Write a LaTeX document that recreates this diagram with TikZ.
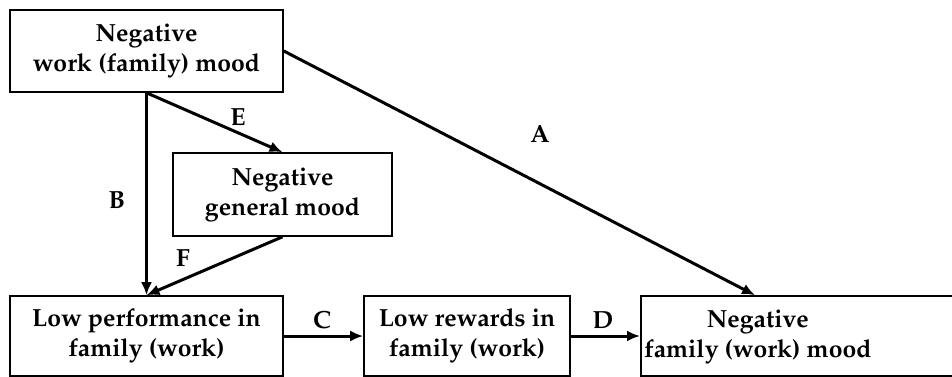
\documentclass[tikz,border=0pt]{standalone}
\usepackage[T1]{fontenc}
\usepackage{mathpazo}
\usetikzlibrary{arrows.meta}

\tikzset{
  box/.style={draw, line width=0.8pt, inner sep=0pt, align=center,
    font=\fontsize{12.4}{15}\selectfont\bfseries},
  arr/.style={line width=1.5pt, -{Latex[length=6.5pt,width=5.5pt]}},
  lbl/.style={font=\fontsize{12.4}{15}\selectfont\bfseries, inner sep=0pt}
}

\begin{document}
\begin{tikzpicture}[x=0.5pt,y=-0.5pt]
  \useasboundingbox (0,0) rectangle (952,376);
  % boxes
  \node[box, minimum width=136.5pt, minimum height=41pt] (work) at (146.5,51)
    {Negative\\work (family) mood};
  \node[box, minimum width=109.5pt, minimum height=41.5pt] (general) at (282.5,194.5)
    {Negative\\general mood};
  \node[box, minimum width=136.5pt, minimum height=40pt] (perf) at (146.5,336)
    {Low performance in\\family (work)};
  \node[box, minimum width=103pt, minimum height=40pt] (reward) at (467,336)
    {Low rewards in\\family (work)};
  \node[box, minimum width=165pt, minimum height=40pt, anchor=west] (mood) at (640,336)
    {\begin{tabular}{@{}c@{}}Negative\\family (work) mood\end{tabular}\hspace{48pt}};
  % paths
  \draw[arr] (work.south) -- (perf.north);
  \draw[arr] (work.south) -- (general.north);
  \draw[arr] (general.south) -- (perf.north);
  \draw[arr] (work.east) -- ([xshift=57.5pt]mood.north west);
  \draw[arr] (perf.east) -- (reward.west);
  \draw[arr] (reward.east) -- (mood.west);
  % path labels
  \node[lbl] (lblA) at (540,134) {A};
  \node[lbl] (lblB) at (117,200) {B};
  \node[lbl] (lblC) at (322,320) {C};
  \node[lbl] (lblD) at (603,320) {D};
  \node[lbl] (lblE) at (238,117) {E};
  \node[lbl] (lblF) at (183,258) {F};
\end{tikzpicture}
\end{document}
